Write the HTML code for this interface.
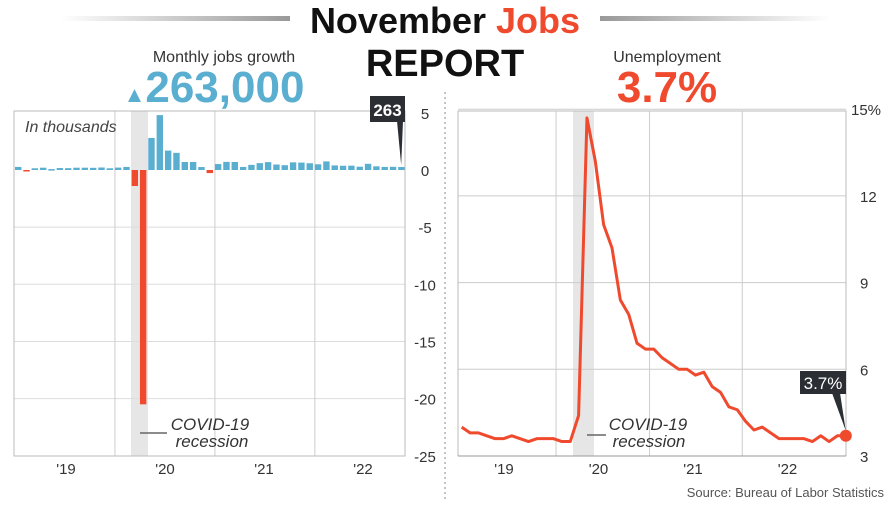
<!DOCTYPE html>
<html><head><meta charset="utf-8"><style>
body{margin:0;background:#fff;}
svg text{font-family:"Liberation Sans",sans-serif;}
</style></head><body>
<svg id="c" width="890" height="501" viewBox="0 0 890 501" xmlns="http://www.w3.org/2000/svg">
<defs>
<linearGradient id="gl" x1="0" x2="1"><stop offset="0" stop-color="#fff"/><stop offset="1" stop-color="#999"/></linearGradient>
<linearGradient id="gr" x1="0" x2="1"><stop offset="0" stop-color="#999"/><stop offset="1" stop-color="#fff"/></linearGradient>
</defs>
<rect x="60" y="16" width="230" height="5" fill="url(#gl)"/>
<rect x="600" y="16" width="230" height="5" fill="url(#gr)"/>
<text x="445" y="33" text-anchor="middle" font-size="36" font-weight="bold" fill="#111">November <tspan fill="#f04a2e">Jobs</tspan></text>
<text x="445" y="76" text-anchor="middle" font-size="38" font-weight="bold" fill="#111">REPORT</text>
<text x="224" y="62" text-anchor="middle" font-size="16" fill="#333">Monthly jobs growth</text>
<text x="214" y="102" text-anchor="middle" font-size="44" font-weight="bold" fill="#5aaed0"><tspan font-size="22">▲</tspan>263,000</text>
<text x="667" y="62" text-anchor="middle" font-size="16" fill="#333">Unemployment</text>
<text x="667" y="102" text-anchor="middle" font-size="44" font-weight="bold" fill="#f04a2e">3.7%</text>
<line x1="445" y1="92" x2="445" y2="501" stroke="#888" stroke-dasharray="2,3"/>
<text x="884" y="497" text-anchor="end" font-size="13" fill="#555">Source: Bureau of Labor Statistics</text>
<g id="left"></g><g id="right"></g>
</svg>
<script>
const jobMonths=47;
const jobValues=[0.27,-0.05,0.15,0.2,0.08,0.17,0.16,0.2,0.2,0.19,0.22,0.15,
0.21,0.27,-1.4,-20.5,2.8,4.8,1.7,1.5,0.7,0.7,0.26,-0.27,
0.52,0.71,0.7,0.27,0.45,0.6,0.69,0.48,0.42,0.67,0.65,0.59,
0.5,0.75,0.4,0.37,0.38,0.29,0.54,0.32,0.27,0.28,0.26];
const jobTicks=[5,0,-5,-10,-15,-20,-25];
const yearLabels=["'19","'20","'21","'22"];
const rateValues=[4.0,3.8,3.8,3.7,3.6,3.6,3.7,3.6,3.5,3.6,3.6,3.6,
3.5,3.5,4.4,14.7,13.2,11.0,10.2,8.4,7.9,6.9,6.7,6.7,
6.4,6.2,6.0,6.0,5.8,5.9,5.4,5.2,4.7,4.6,4.2,3.9,
4.0,3.8,3.6,3.6,3.6,3.6,3.5,3.7,3.5,3.7,3.7];
const rateTicks=[15,12,9,6,3];
const NS="http://www.w3.org/2000/svg";
function mk(p,t,a){const e=document.createElementNS(NS,t);for(const k in a)e.setAttribute(k,a[k]);p.appendChild(e);return e;}
// LEFT
const L=document.getElementById('left');
const lx=i=>14+i*8.33, ly=v=>170-v*11.43;
let e=mk(L,'rect',{x:131,y:111,width:17,height:345,fill:'#e6e6e6'});


jobTicks.forEach(t=>{if(t!==0&&t!==5&&t!==-25){const g=mk(L,'line',{x1:14,x2:405,y1:ly(t),y2:ly(t),stroke:'#ddd'});

}
const tx=mk(L,'text',{x:425,y:ly(t)+6,'text-anchor':'middle','font-size':15,fill:'#333'});tx.textContent=t;

});
[12,24,36].forEach(m=>{const g=mk(L,'line',{x1:lx(m)+1,x2:lx(m)+1,y1:111,y2:456,stroke:'#ccc'});

});
yearLabels.forEach((s,k)=>{const tx=mk(L,'text',{x:66+k*99,y:474,'text-anchor':'middle','font-size':15,fill:'#333'});tx.textContent=s;

});
e=mk(L,'rect',{x:14,y:111,width:391,height:345,fill:'none',stroke:'#bbb'});


jobValues.forEach((v,i)=>{const y0=ly(0),y1=ly(v);const r=mk(L,'rect',{x:lx(i)+1,y:Math.min(y0,y1),width:6.4,height:Math.max(1.5,Math.abs(y1-y0)),fill:v<0?'#f04a2e':'#5aaed0'});

});
e=mk(L,'text',{x:25,y:132,'font-size':16,'font-style':'italic',fill:'#444'});e.textContent='In thousands';


const lastI=jobValues.length-1;
e=mk(L,'path',{d:`M397 121 L403 121 L${lx(lastI)+4} ${ly(jobValues[lastI])-2} Z`,fill:'#2b2f33'});


e=mk(L,'rect',{x:370,y:96,width:35,height:26,fill:'#2b2f33'});


e=mk(L,'text',{x:387.5,y:116,'text-anchor':'middle','font-size':17,'font-weight':'bold',fill:'#fff'});e.textContent='263';


e=mk(L,'line',{x1:140,x2:167,y1:433,y2:433,stroke:'#666','stroke-width':1.5});


e=mk(L,'text',{x:210,y:430,'text-anchor':'middle','font-size':17,'font-style':'italic',fill:'#333'});e.textContent='COVID-19';


e=mk(L,'text',{x:212,y:447,'text-anchor':'middle','font-size':17,'font-style':'italic',fill:'#333'});e.textContent='recession';


// RIGHT
const R=document.getElementById('right');
const rx=i=>461.7+i*8.35, ry=v=>456-(v-3)*28.9;
e=mk(R,'rect',{x:573,y:111,width:21,height:345,fill:'#e6e6e6'});


rateTicks.forEach(t=>{if(t!==3){const g=mk(R,'line',{x1:458,x2:846,y1:ry(t),y2:ry(t),stroke:'#ccc'});

}
const tx=mk(R,'text',{x:t===15?851:860,y:ry(t)+6,'text-anchor':'start','font-size':15,fill:'#333'});tx.textContent=t===15?'15%':t;

});
[11.3,22.5,33.6].forEach(m=>{const g=mk(R,'line',{x1:rx(m),x2:rx(m),y1:111,y2:456,stroke:'#ccc'});

});
yearLabels.forEach((s,k)=>{const tx=mk(R,'text',{x:504+k*94.5,y:474,'text-anchor':'middle','font-size':15,fill:'#333'});tx.textContent=s;

});
e=mk(R,'path',{d:'M458 111 H846 V456 M458 111 V456',fill:'none',stroke:'#bbb'});


e=mk(R,'line',{x1:458,x2:846,y1:456,y2:456,stroke:'#999'});


e=mk(R,'polyline',{points:rateValues.map((v,i)=>rx(i)+','+ry(v)).join(' '),fill:'none',stroke:'#f04a2e','stroke-width':3,'stroke-linejoin':'round'});


const lr=rateValues.length-1;
e=mk(R,'circle',{cx:rx(lr),cy:ry(rateValues[lr]),r:6,fill:'#f04a2e'});


e=mk(R,'path',{d:`M832 393 L840 393 L${rx(lr)} ${ry(rateValues[lr])-5} Z`,fill:'#2b2f33'});


e=mk(R,'rect',{x:800,y:371,width:46,height:23,fill:'#2b2f33'});


e=mk(R,'text',{x:823,y:389,'text-anchor':'middle','font-size':17,fill:'#fff'});e.textContent='3.7%';


e=mk(R,'line',{x1:587,x2:606,y1:435,y2:435,stroke:'#666','stroke-width':1.5});


e=mk(R,'text',{x:648,y:430,'text-anchor':'middle','font-size':17,'font-style':'italic',fill:'#333'});e.textContent='COVID-19';


e=mk(R,'text',{x:649,y:447,'text-anchor':'middle','font-size':17,'font-style':'italic',fill:'#333'});e.textContent='recession';


</script>
</body></html>
